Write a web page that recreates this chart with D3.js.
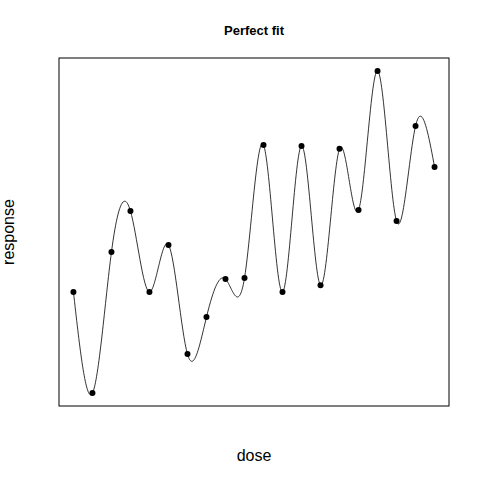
<!DOCTYPE html>
<html><head><meta charset="utf-8">
<script src="https://cdn.jsdelivr.net/npm/d3@7"></script>
<style>body{margin:0;background:#fff}</style></head>
<body><svg id="chart" width="480" height="480"></svg>
<script>
const dose = [1,2,3,4,5,6,7,8,9,10,11,12,13,14,15,16,17,18,19,20];
const response = [3.14,0,4.38,5.65,3.14,4.60,1.21,2.36,3.54,3.57,7.70,3.14,7.67,3.35,7.58,5.68,10,5.34,8.29,7.02];

const svg = d3.select("#chart");
const plotLeft = 59, plotRight = 449, plotTop = 58, plotBottom = 406;

// R-style 4% range extension
const xPad = (20 - 1) * 0.04, yPad = 10 * 0.04;
const x = d3.scaleLinear().domain([1 - xPad, 20 + xPad]).range([plotLeft, plotRight]);
const y = d3.scaleLinear().domain([0 - yPad, 10 + yPad]).range([plotBottom, plotTop]);

const pts = dose.map((d, i) => [d, response[i]]);

svg.append("rect")
  .attr("x", plotLeft).attr("y", plotTop)
  .attr("width", plotRight - plotLeft).attr("height", plotBottom - plotTop)
  .attr("fill", "none").attr("stroke", "#000").attr("stroke-width", 1);

const line = d3.line()
  .x(d => x(d[0]))
  .y(d => y(d[1]))
  .curve(d3.curveNatural);

svg.append("path")
  .attr("d", line(pts))
  .attr("fill", "none")
  .attr("stroke", "#000")
  .attr("stroke-width", 0.8);

svg.selectAll(".pt")
  .data(pts)
  .enter()
  .append("circle")
  .attr("class", "pt")
  .attr("cx", d => x(d[0]))
  .attr("cy", d => y(d[1]))
  .attr("r", 3)
  .attr("fill", "#000");

svg.append("text")
  .attr("x", 254).attr("y", 35)
  .attr("text-anchor", "middle")
  .attr("font-family", "Liberation Sans, Arial, sans-serif")
  .attr("font-size", "13px").attr("font-weight", "bold")
  .text("Perfect fit");

svg.append("text")
  .attr("x", 254).attr("y", 461)
  .attr("text-anchor", "middle")
  .attr("font-family", "Liberation Sans, Arial, sans-serif")
  .attr("font-size", "16px")
  .text("dose");

svg.append("text")
  .attr("transform", "translate(14,232) rotate(-90)")
  .attr("text-anchor", "middle")
  .attr("font-family", "Liberation Sans, Arial, sans-serif")
  .attr("font-size", "16px")
  .text("response");
</script></body></html>
